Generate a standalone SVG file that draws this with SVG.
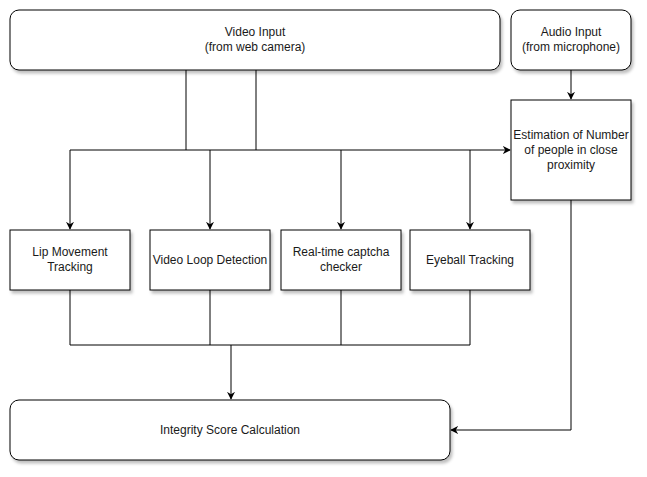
<svg xmlns="http://www.w3.org/2000/svg" width="647" height="477" viewBox="0 0 647 477">
<style>
.n{fill:#fff;stroke:#000;stroke-width:1;filter:url(#sh)}
.t{font-family:"Liberation Sans",Arial,sans-serif;font-size:12px;fill:#1a1a1a;text-anchor:middle}
.c{fill:none;stroke:#000;stroke-width:1}
</style>
<defs>
<filter id="sh" x="-10%" y="-10%" width="130%" height="140%">
<feDropShadow dx="2" dy="3" stdDeviation="1.5" flood-color="#000" flood-opacity="0.25"/>
</filter>
<marker id="a" viewBox="0 0 10 10" refX="9" refY="5" markerWidth="8" markerHeight="8" markerUnits="userSpaceOnUse" orient="auto">
<path d="M0,0 L10,5 L0,10 L3,5 Z" fill="#000"/>
</marker>
</defs>
<rect width="647" height="477" fill="#fff"/>
<g id="connectors">
<path class="c" d="M186,70 V150"/>
<path class="c" d="M256,70 V150"/>
<path class="c" d="M70,150 H510" marker-end="url(#a)"/>
<path class="c" d="M70,150 V229" marker-end="url(#a)"/>
<path class="c" d="M210,150 V229" marker-end="url(#a)"/>
<path class="c" d="M341,150 V229" marker-end="url(#a)"/>
<path class="c" d="M470,150 V229" marker-end="url(#a)"/>
<path class="c" d="M571,70 V99" marker-end="url(#a)"/>
<path class="c" d="M70,290 V345 H470 V290"/>
<path class="c" d="M210,290 V345"/>
<path class="c" d="M341,290 V345"/>
<path class="c" d="M231,345 V399" marker-end="url(#a)"/>
<path class="c" d="M571,200 V430 H451" marker-end="url(#a)"/>
</g>
<g id="video-input">
<rect class="n" x="10" y="10" width="490" height="60" rx="9"/>
<text class="t" x="255" y="36">Video Input</text>
<text class="t" x="255" y="51">(from web camera)</text>
</g>
<g id="audio-input">
<rect class="n" x="511" y="10" width="120" height="60" rx="9"/>
<text class="t" x="571" y="36">Audio Input</text>
<text class="t" x="571" y="51">(from microphone)</text>
</g>
<g id="estimation">
<rect class="n" x="511" y="100" width="120" height="100"/>
<text class="t" x="571" y="139">Estimation of Number</text>
<text class="t" x="571" y="154">of people in close</text>
<text class="t" x="571" y="169">proximity</text>
</g>
<g id="lip">
<rect class="n" x="10" y="230" width="120" height="60"/>
<text class="t" x="70" y="256">Lip Movement</text>
<text class="t" x="70" y="271">Tracking</text>
</g>
<g id="loop">
<rect class="n" x="150" y="230" width="120" height="60"/>
<text class="t" x="210" y="264">Video Loop Detection</text>
</g>
<g id="captcha">
<rect class="n" x="281" y="230" width="120" height="60"/>
<text class="t" x="341" y="256">Real-time captcha</text>
<text class="t" x="341" y="271">checker</text>
</g>
<g id="eyeball">
<rect class="n" x="410" y="230" width="120" height="60"/>
<text class="t" x="470" y="264">Eyeball Tracking</text>
</g>
<g id="integrity">
<rect class="n" x="10" y="400" width="440" height="60" rx="9"/>
<text class="t" x="230" y="434">Integrity Score Calculation</text>
</g>
</svg>
